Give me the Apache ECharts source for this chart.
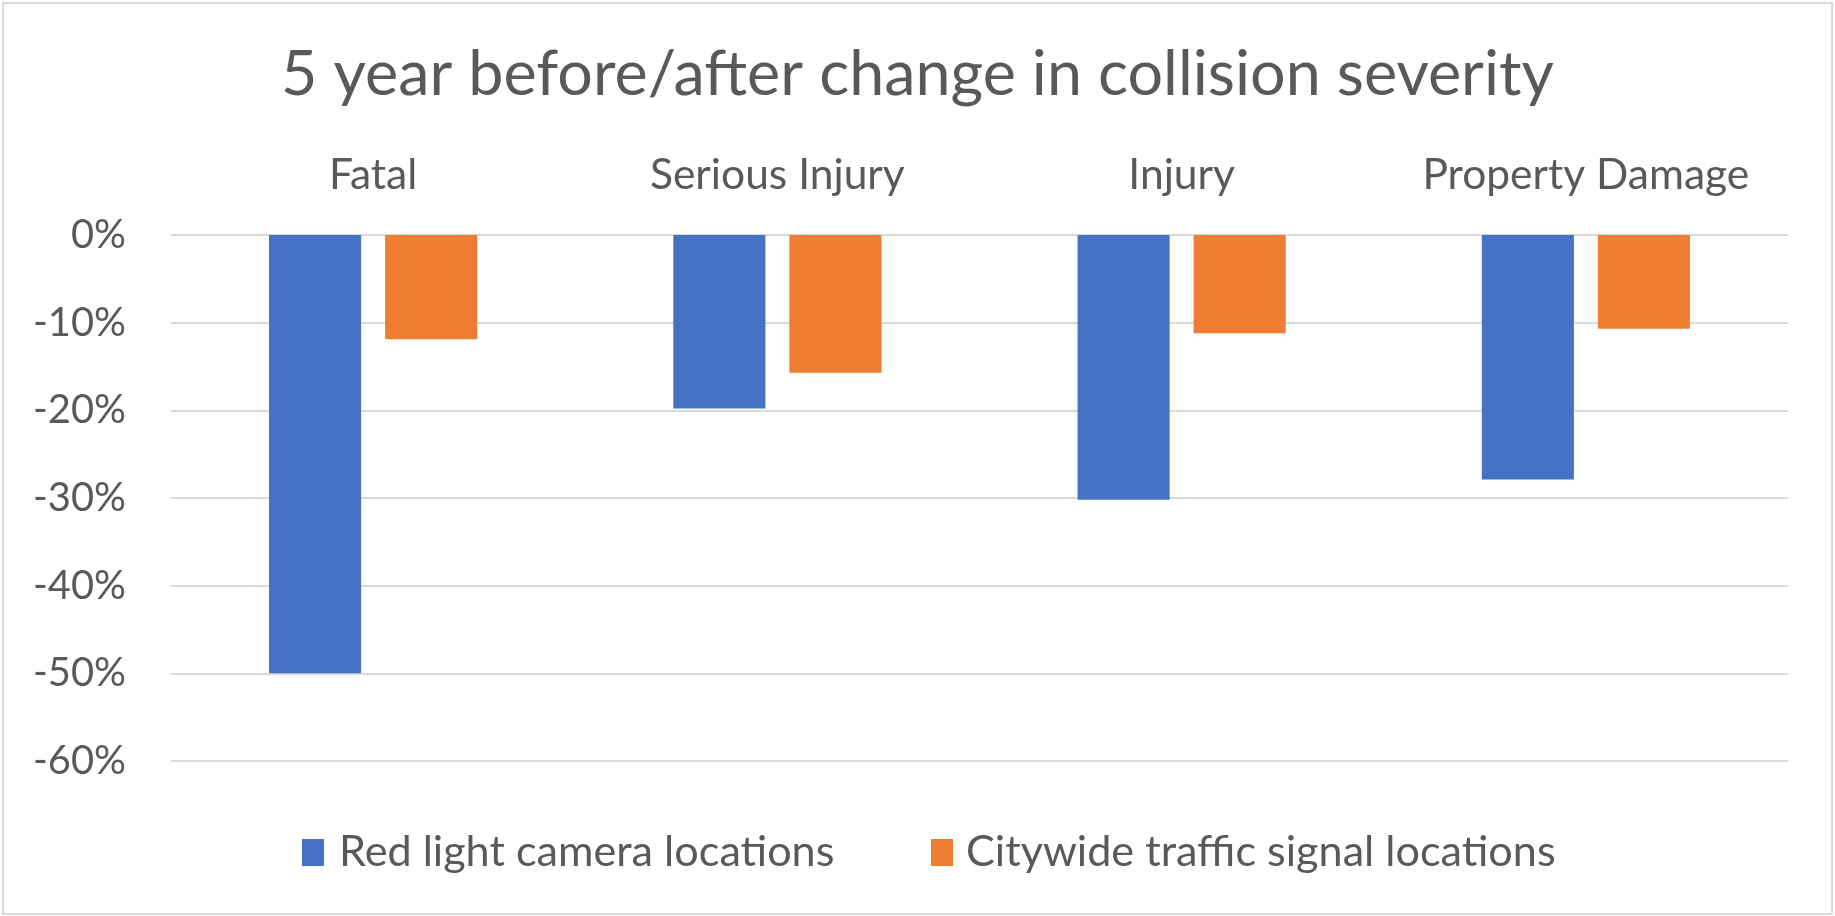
<!DOCTYPE html>
<html><head><meta charset="utf-8">
<script src="https://cdn.jsdelivr.net/npm/echarts@6/dist/echarts.min.js"></script>
<style>html,body{margin:0;padding:0;background:#fff}#c{width:1835px;height:916px}</style>
</head><body><div id="c"></div>
<script>
const categories = ['Fatal', 'Serious Injury', 'Injury', 'Property Damage'];
const redLightCamera = [-50, -19.8, -30.2, -27.9];
const citywideSignals = [-11.9, -15.7, -11.2, -10.7];
const seriesNames = ['Red light camera locations', 'Citywide traffic signal locations'];
const yTicks = { min: -60, max: 0, interval: 10 };
const titleText = '5 year before/after change in collision severity';

const FONT = 'Lato';
const cv = document.createElement('canvas').getContext('2d');
function fit(text, target) { cv.font = '100px ' + FONT; return 100 * target / cv.measureText(text).width; }
const titleSize = fit(titleText, 1273);
const catSize = fit('Property Damage', 327);
const tickSize = fit('-60%', 93);
const legSize = fit(seriesNames[0] + seriesNames[1], 494 + 591) ;
const txt = '#595959';

const chart = echarts.init(document.getElementById('c'));
chart.setOption({
  animation: false,
  backgroundColor: '#fff',
  title: { text: titleText, left: 'center', top: 38,
    textStyle: { fontFamily: FONT, fontSize: titleSize, fontWeight: 'normal', color: txt } },
  graphic: [{ type: 'rect', shape: { x: 3, y: 3, width: 1829, height: 911 },
    style: { fill: 'none', stroke: '#d9d9d9', lineWidth: 2 }, silent: true }],
  legend: [
    { data: [seriesNames[0]], left: 297, top: 826, itemWidth: 22, itemHeight: 27, icon: 'rect',
      textStyle: { fontFamily: FONT, fontSize: legSize, color: txt, padding: [0, 0, 0, 10] } },
    { data: [seriesNames[1]], left: 926, top: 826, itemWidth: 22, itemHeight: 27, icon: 'rect',
      textStyle: { fontFamily: FONT, fontSize: legSize, color: txt, padding: [0, 0, 0, 8] } }
  ],
  grid: { left: 171, right: 47, top: 235, bottom: 155, containLabel: false },
  xAxis: { type: 'category', data: categories, position: 'top',
    axisLine: { show: false }, axisTick: { show: false },
    axisLabel: { interval: 0, fontFamily: FONT, fontSize: catSize, color: txt, margin: 38 } },
  yAxis: { type: 'value', min: yTicks.min, max: yTicks.max, interval: yTicks.interval,
    axisLine: { show: false }, axisTick: { show: false },
    axisLabel: { formatter: '{value}%', fontFamily: FONT, fontSize: tickSize, color: txt, margin: 45 },
    splitLine: { lineStyle: { color: '#d9d9d9', width: 2 } } },
  series: [
    { name: seriesNames[0], type: 'bar', data: redLightCamera, itemStyle: { color: '#4472C4' },
      barGap: '26%', barCategoryGap: '48.5%' },
    { name: seriesNames[1], type: 'bar', data: citywideSignals, itemStyle: { color: '#ED7D31' },
      barGap: '26%', barCategoryGap: '48.5%' }
  ]
});
</script></body></html>
